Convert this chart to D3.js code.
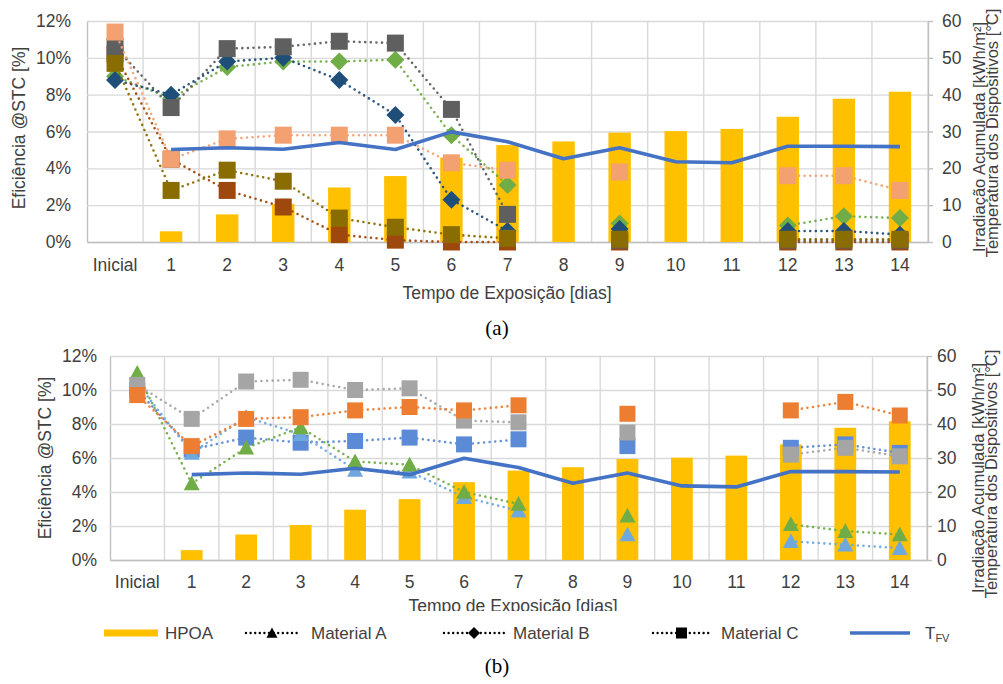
<!DOCTYPE html>
<html>
<head>
<meta charset="utf-8">
<script src="https://cdn.jsdelivr.net/npm/d3@7"></script>
<style>
  body { margin: 0; background: #fff; }
  text { font-family: "Liberation Sans", Arial, sans-serif; fill: #404040; }
</style>
</head>
<body>
<svg id="chart" width="1003" height="684"></svg>
<script>
// categories
const days = ['Inicial', '1', '2', '3', '4', '5', '6', '7', '8', '9', '10', '11', '12', '13', '14']

// secondary axis series (shared by both panels)
const hpoa   = [null, 2.9, 7.5, 10.3, 14.8, 17.9, 22.9, 26.3, 27.3, 29.7, 30.1, 30.7, 34.0, 38.9, 40.8]
const tempFV = [null, 25.1, 25.6, 25.2, 27.0, 25.1, 29.9, 27.2, 22.6, 25.6, 21.8, 21.5, 26.0, 26.0, 25.9]

// panel (a) efficiency [%]
const aMatB1 = [8.8, 8.0, 9.8, 10.0, 8.8, 6.9, 2.3, 0.6, null, 0.7, null, null, 0.6, 0.6, 0.4]
const aMatB2 = [9.0, 7.8, 9.5, 9.8, 9.8, 9.9, 5.8, 3.1, null, 1.0, null, null, 0.9, 1.4, 1.3]
const aMatC4 = [10.2, 4.5, 2.8, 1.9, 0.4, 0.1, 0.0, 0.0, null, 0.0, null, null, 0.0, 0.0, 0.0]
const aMatC1 = [10.6, 7.3, 10.5, 10.6, 10.9, 10.8, 7.2, 1.5, null, 0.1, null, null, 0.1, 0.1, 0.1]
const aMatC2 = [11.4, 4.5, 5.6, 5.8, 5.8, 5.8, 4.3, 3.9, null, 3.8, null, null, 3.6, 3.6, 2.8]
const aMatC3 = [9.7, 2.8, 3.9, 3.3, 1.3, 0.8, 0.4, 0.2, null, 0.15, null, null, 0.15, 0.15, 0.15]

// panel (b) efficiency [%]
const bMatC1 = [10.0, 6.5, 7.2, 6.9, 7.0, 7.2, 6.8, 7.1, null, 6.7, null, null, 6.6, 6.8, 6.3]
const bMatA1 = [10.4, 6.3, 8.4, 7.4, 5.3, 5.2, 3.7, 2.9, null, 1.5, null, null, 1.1, 0.9, 0.7]
const bMatA2 = [11.0, 4.5, 6.6, 7.8, 5.8, 5.6, 4.0, 3.3, null, 2.6, null, null, 2.1, 1.7, 1.5]
const bMatC2 = [10.3, 8.3, 10.5, 10.6, 10.0, 10.1, 8.2, 8.1, null, 7.5, null, null, 6.2, 6.6, 6.1]
const bMatC3 = [9.7, 6.7, 8.3, 8.4, 8.8, 9.0, 8.8, 9.1, null, 8.6, null, null, 8.8, 9.3, 8.5]

const effTicks = [0, 2, 4, 6, 8, 10, 12]
const rightTicks = [0, 10, 20, 30, 40, 50, 60]

// marker outlines
const shapes = {
    square: s => `M${-s},${-s}H${s}V${s}H${-s}Z`,
    diamond: s => `M0,${-s}L${s},0L0,${s}L${-s},0Z`,
    triangle: s => `M0,${-s}L${s},${s * 0.85}L${-s},${s * 0.85}Z`
}

class ExposureChart {
    constructor(_config, _series) {
        this.config = {
            parentElement: _config.parentElement,
            left: _config.left, right: _config.right,
            top: _config.top, bottom: _config.bottom,
            yPad: _config.yPad, xPad: _config.xPad, rPad: _config.rPad,
            markerSize: _config.markerSize || 8,
            yTitle: _config.yTitle, rTitle: _config.rTitle,
            xTitleY: _config.xTitleY, xTitleX: _config.xTitleX
        }
        this.series = _series
        this.initVis()
    }

    initVis() {
        let vis = this
        let c = vis.config
        vis.width = c.right - c.left

        vis.chart = d3.select(c.parentElement).append('g')

        vis.xScale = d3.scaleBand().domain(days).range([c.left, c.right])
        vis.yScale = d3.scaleLinear().domain([0, 12]).range([c.bottom, c.top])
        vis.y2Scale = d3.scaleLinear().domain([0, 60]).range([c.bottom, c.top])

        // left axis + horizontal grid
        vis.yAxisG = vis.chart.append('g')
            .attr('transform', `translate(${c.left},0)`)
            .call(d3.axisLeft(vis.yScale).tickValues(effTicks).tickSize(-vis.width)
                .tickSizeOuter(0).tickPadding(c.yPad).tickFormat(d => d + '%'))
        vis.yAxisG.selectAll('.tick line').attr('stroke', '#d9d9d9').attr('stroke-width', 1.4)
        vis.yAxisG.select('.domain').attr('stroke', '#bfbfbf').attr('stroke-width', 1.4)

        // vertical grid at band edges
        vis.chart.append('g').selectAll('line')
            .data(days.slice(1).concat(['end']))
            .join('line')
                .attr('x1', d => d === 'end' ? c.right : vis.xScale(d))
                .attr('x2', d => d === 'end' ? c.right : vis.xScale(d))
                .attr('y1', c.top).attr('y2', c.bottom)
                .attr('stroke', '#d9d9d9').attr('stroke-width', 1.4)

        vis.xAxisG = vis.chart.append('g')
            .attr('transform', `translate(0,${c.bottom})`)
            .call(d3.axisBottom(vis.xScale).tickSize(0).tickSizeOuter(0).tickPadding(c.xPad))
        vis.xAxisG.select('.domain').attr('stroke', '#bfbfbf').attr('stroke-width', 1.6)

        vis.y2AxisG = vis.chart.append('g')
            .attr('transform', `translate(${c.right},0)`)
            .call(d3.axisRight(vis.y2Scale).tickValues(rightTicks).tickSize(5)
                .tickSizeOuter(0).tickPadding(c.rPad))
        vis.y2AxisG.selectAll('.tick line').attr('stroke', '#bfbfbf').attr('stroke-width', 1.4)
        vis.y2AxisG.select('.domain').attr('stroke', '#bfbfbf').attr('stroke-width', 1.4)

        vis.chart.selectAll('.tick text')
            .attr('font-family', '"Liberation Sans", Arial, sans-serif')
            .attr('font-size', 17.5).attr('fill', '#404040')

        // titles
        vis.chart.append('text')
            .attr('transform', `translate(${c.yTitle[0]},${c.yTitle[1]}) rotate(-90)`)
            .attr('text-anchor', 'middle').attr('dy', '0.35em')
            .attr('font-size', 17.5)
            .text('Eficiência @STC [%]')

        let rt = vis.chart.append('g')
        rt.append('text')
            .attr('transform', `translate(${c.rTitle[0]},${c.rTitle[1]}) rotate(-90)`)
            .attr('text-anchor', 'middle').attr('font-size', 16.5)
            .text('Irradiação Acumulada [kWh/m²]')
        rt.append('text')
            .attr('transform', `translate(${c.rTitle[0] + 13},${c.rTitle[1] - 4}) rotate(-90)`)
            .attr('text-anchor', 'middle').attr('font-size', 16.5)
            .text('Temperatura dos Dispositivos [°C]')

        vis.xTitle = vis.chart.append('text')
            .attr('x', c.xTitleX).attr('y', c.xTitleY)
            .attr('text-anchor', 'middle').attr('font-size', 17.5)
            .text('Tempo de Exposição [dias]')

        vis.renderVis()
    }

    renderVis() {
        let vis = this
        let c = vis.config
        let bw = vis.xScale.bandwidth() * 0.4

        vis.chart.append('g').selectAll('rect')
            .data(days.map((d, i) => ({day: d, v: hpoa[i]})).filter(d => d.v != null))
            .join('rect')
                .attr('x', d => vis.xScale(d.day) + vis.xScale.bandwidth() / 2 - bw / 2)
                .attr('width', bw)
                .attr('y', d => vis.y2Scale(d.v))
                .attr('height', d => c.bottom - vis.y2Scale(d.v))
                .attr('fill', '#ffc000')

        let cx = d => vis.xScale(d.day) + vis.xScale.bandwidth() / 2

        let line = d3.line()
            .defined(d => d.v != null)
            .x(cx)
            .y(d => vis.yScale(d.v))

        vis.series.forEach(s => {
            let pts = days.map((d, i) => ({day: d, v: s.values[i]}))
            let g = vis.chart.append('g')
            g.append('path')
                .attr('d', line(pts))
                .attr('fill', 'none')
                .attr('stroke', s.color)
                .attr('stroke-width', 2.6)
                .attr('stroke-linecap', 'round')
                .attr('stroke-dasharray', '0,5.6')
                .attr('opacity', 0.95)
            g.selectAll('path.mark')
                .data(pts.filter(d => d.v != null))
                .join('path')
                    .attr('class', 'mark')
                    .attr('d', shapes[s.shape](s.size || c.markerSize))
                    .attr('transform', d => `translate(${cx(d)},${vis.yScale(d.v)})`)
                    .attr('fill', s.color)
        })

        let tLine = d3.line()
            .defined(d => d.v != null)
            .x(cx)
            .y(d => vis.y2Scale(d.v))

        vis.chart.append('path')
            .attr('d', tLine(days.map((d, i) => ({day: d, v: tempFV[i]}))))
            .attr('fill', 'none')
            .attr('stroke', '#4472c4')
            .attr('stroke-width', 3.6)
            .attr('stroke-linejoin', 'round')
    }
}

const svg = d3.select('#chart')

new ExposureChart({
    parentElement: '#chart',
    left: 87, right: 928, top: 21, bottom: 242,
    yPad: 16, xPad: 16.5, rPad: 9, markerSize: 8.5,
    yTitle: [19, 128], rTitle: [985, 137],
    xTitleX: 507, xTitleY: 299
}, [
    {values: aMatB2, color: '#70ad47', shape: 'diamond', size: 9},
    {values: aMatB1, color: '#1f4e79', shape: 'diamond', size: 9},
    {values: aMatC4, color: '#9e480e', shape: 'square'},
    {values: aMatC1, color: '#5f5f5f', shape: 'square'},
    {values: aMatC2, color: '#f4a172', shape: 'square'},
    {values: aMatC3, color: '#8a6d00', shape: 'square'}
])

new ExposureChart({
    parentElement: '#chart',
    left: 110, right: 927, top: 356, bottom: 560,
    yPad: 13, xPad: 15.5, rPad: 5, markerSize: 8,
    yTitle: [45, 458], rTitle: [984, 478],
    xTitleX: 513, xTitleY: 612
}, [
    {values: bMatC1, color: '#5b8ad6', shape: 'square'},
    {values: bMatA1, color: '#6fa8dc', shape: 'triangle'},
    {values: bMatA2, color: '#70ad47', shape: 'triangle'},
    {values: bMatC2, color: '#a5a5a5', shape: 'square'},
    {values: bMatC3, color: '#ed7d31', shape: 'square'}
])

// bottom of panel (b) x title is hidden behind the legend area
svg.append('rect').attr('x', 380).attr('y', 611).attr('width', 270).attr('height', 12).attr('fill', '#fff')

// panel captions
svg.append('text').attr('x', 497).attr('y', 335).attr('text-anchor', 'middle')
    .attr('font-size', 21).style('font-family', '"Liberation Serif", "Times New Roman", serif')
    .style('fill', '#000').text('(a)')
svg.append('text').attr('x', 497).attr('y', 673).attr('text-anchor', 'middle')
    .attr('font-size', 21).style('font-family', '"Liberation Serif", "Times New Roman", serif')
    .style('fill', '#000').text('(b)')

// legend
const legendY = 633
const legend = svg.append('g')
legend.append('line').attr('x1', 104).attr('x2', 158).attr('y1', legendY).attr('y2', legendY)
    .attr('stroke', '#ffc000').attr('stroke-width', 7)
legend.append('text').attr('x', 165).attr('y', legendY + 6).attr('font-size', 17).text('HPOA')

const legendMats = [
    {label: 'Material A', shape: 'triangle', x0: 246, x1: 298, tx: 311, size: 5.5},
    {label: 'Material B', shape: 'diamond', x0: 444, x1: 504, tx: 513, size: 6},
    {label: 'Material C', shape: 'square', x0: 653, x1: 710, tx: 721, size: 5.5}
]
legendMats.forEach(m => {
    legend.append('line').attr('x1', m.x0).attr('x2', m.x1).attr('y1', legendY).attr('y2', legendY)
        .attr('stroke', '#000').attr('stroke-width', 2.4).attr('stroke-linecap', 'round')
        .attr('stroke-dasharray', '0,4.6')
    legend.append('path').attr('d', shapes[m.shape](m.size))
        .attr('transform', `translate(${(m.x0 + m.x1) / 2},${legendY})`).attr('fill', '#000')
    legend.append('text').attr('x', m.tx).attr('y', legendY + 6).attr('font-size', 17).text(m.label)
})

legend.append('line').attr('x1', 850).attr('x2', 910).attr('y1', legendY).attr('y2', legendY)
    .attr('stroke', '#4472c4').attr('stroke-width', 3.6)
const tfv = legend.append('text').attr('x', 925).attr('y', legendY + 6).attr('font-size', 17)
tfv.append('tspan').text('T')
tfv.append('tspan').attr('font-size', 11).attr('dy', 3).text('FV')
</script>
</body>
</html>
